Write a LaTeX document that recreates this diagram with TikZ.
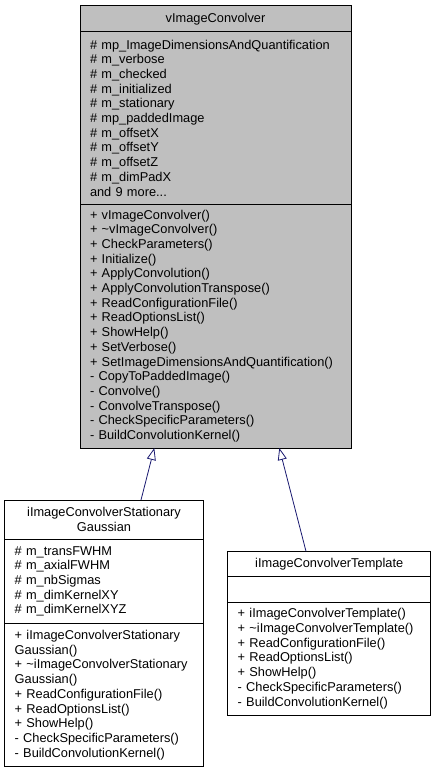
\documentclass[tikz,border=0pt]{standalone}
\usepackage{fontspec}
\setmainfont{Liberation Sans}
\usetikzlibrary{arrows.meta, positioning}
\definecolor{dxgrey}{RGB}{191,191,191}
\definecolor{dxnavy}{RGB}{25,25,112}

\begin{document}
\begin{tikzpicture}[x=1pt, y=-1pt,
    part/.style={draw, line width=1pt, outer sep=0pt, inner xsep=10pt, inner ysep=0pt, align=left, font=\fontsize{12.8}{14.7}\selectfont},
    head/.style={part, align=center},
    derive/.style={dxnavy, line width=0.8pt, -{Triangle[open, length=12pt, width=9pt]}}]
\useasboundingbox (0,0) rectangle (436,773);

% base class
\node[head, fill=dxgrey, anchor=north west, minimum width=271pt, text width=251pt, minimum height=26pt] (convtitle) at (80,6) {vImageConvolver};
\node[part, fill=dxgrey, below=0pt of convtitle, minimum width=271pt, text width=251pt, minimum height=172pt] (convattr) {\# mp\_ImageDimensionsAndQuantification\\\# m\_verbose\\\# m\_checked\\\# m\_initialized\\\# m\_stationary\\\# mp\_paddedImage\\\# m\_offsetX\\\# m\_offsetY\\\# m\_offsetZ\\\# m\_dimPadX\\and 9 more...};
\node[part, fill=dxgrey, below=0pt of convattr, minimum width=271pt, text width=251pt, minimum height=244pt] (convmeth) {+ vImageConvolver()\\+ \textasciitilde vImageConvolver()\\+ CheckParameters()\\+ Initialize()\\+ ApplyConvolution()\\+ ApplyConvolutionTranspose()\\+ ReadConfigurationFile()\\+ ReadOptionsList()\\+ ShowHelp()\\+ SetVerbose()\\+ SetImageDimensionsAndQuantification()\\- CopyToPaddedImage()\\- Convolve()\\- ConvolveTranspose()\\- CheckSpecificParameters()\\- BuildConvolutionKernel()};

% stationary gaussian
\node[head, fill=white, anchor=north west, minimum width=198.6pt, text width=178.6pt, minimum height=39.3pt] (gausstitle) at (4.7,500) {iImageConvolverStationary\\Gaussian};
\node[part, fill=white, below=0pt of gausstitle, minimum width=198.6pt, text width=178.6pt, minimum height=84pt] (gaussattr) {\# m\_transFWHM\\\# m\_axialFWHM\\\# m\_nbSigmas\\\# m\_dimKernelXY\\\# m\_dimKernelXYZ};
\node[part, fill=white, below=0pt of gaussattr, minimum width=198.6pt, text width=178.6pt, minimum height=143.4pt] (gaussmeth) {+ iImageConvolverStationary\\Gaussian()\\+ \textasciitilde iImageConvolverStationary\\Gaussian()\\+ ReadConfigurationFile()\\+ ReadOptionsList()\\+ ShowHelp()\\- CheckSpecificParameters()\\- BuildConvolutionKernel()};

% template
\node[head, fill=white, anchor=north west, minimum width=203pt, text width=183pt, minimum height=25pt] (tpltitle) at (227.7,551.3) {iImageConvolverTemplate};
\node[part, fill=white, below=0pt of tpltitle, minimum width=203pt, text width=183pt, minimum height=26pt] (tplattr) {};
\node[part, fill=white, below=0pt of tplattr, minimum width=203pt, text width=183pt, minimum height=112.7pt] (tplmeth) {+ iImageConvolverTemplate()\\+ \textasciitilde iImageConvolverTemplate()\\+ ReadConfigurationFile()\\+ ReadOptionsList()\\+ ShowHelp()\\- CheckSpecificParameters()\\- BuildConvolutionKernel()};

\draw[derive] ([xshift=37pt]gausstitle.north) -- ([xshift=-61.2pt]convmeth.south);
\draw[derive] ([xshift=-23.2pt]tpltitle.north) -- ([xshift=63.8pt]convmeth.south);
\end{tikzpicture}
\end{document}
